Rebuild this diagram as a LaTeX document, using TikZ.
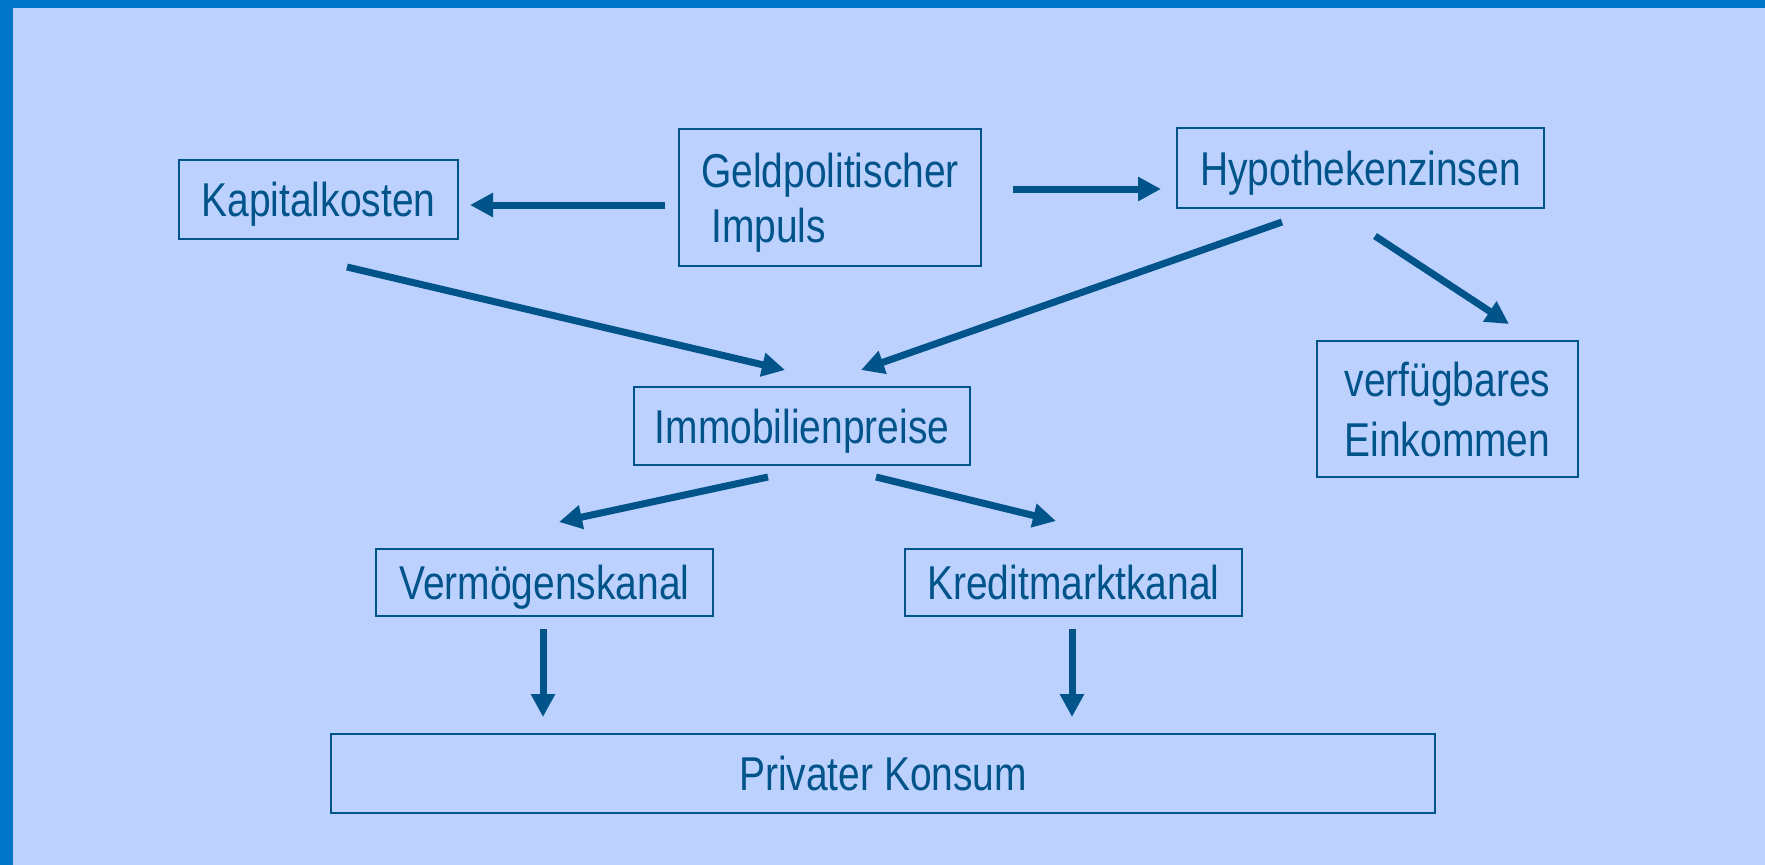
\documentclass[tikz,border=0pt]{standalone}
\usepackage{fontspec}
\setmainfont[FakeStretch=0.82]{Liberation Sans}
\usetikzlibrary{arrows.meta,calc}
\definecolor{bgc}{RGB}{189,209,255}
\definecolor{barc}{RGB}{0,119,200}
\definecolor{inkc}{RGB}{0,84,138}
\begin{document}
\begin{tikzpicture}[x=1pt,y=-1pt,
  box/.style={draw=inkc,line width=2pt,inner sep=0pt,text=inkc,
    text height=34pt,text depth=0pt,
    font=\fontsize{47.5}{55}\selectfont},
  arr/.style={draw=inkc,line width=7pt,-{Triangle[length=23pt,width=23pt]}}]
\useasboundingbox (0,0) rectangle (1765,865);
\fill[bgc] (0,0) rectangle (1765,865);
\fill[barc] (0,0) rectangle (1765,8);
\fill[barc] (0,0) rectangle (13,865);
\node[box,minimum width=302pt,minimum height=137pt,align=left,text height=89pt] (geld) at (830,197.5) {Geldpolitischer\\\hspace{10pt}Impuls};
\node[box,minimum width=279pt,minimum height=79pt] (kap) at (318.5,199.5) {Kapitalkosten};
\node[box,minimum width=367pt,minimum height=80pt] (hyp) at (1360.5,168) {Hypothekenzinsen};
\node[box,minimum width=336pt,minimum height=78pt] (immo) at (802,426) {Immobilienpreise};
\node[box,minimum width=261pt,minimum height=136pt,align=left,text height=94pt,
  font=\fontsize{47.5}{60}\selectfont] (verf) at (1447.5,409) {verfügbares\hspace{10pt}\\Einkommen};
\node[box,minimum width=337pt,minimum height=67pt] (verm) at (544.5,582.5) {Vermögenskanal};
\node[box,minimum width=337pt,minimum height=67pt] (kred) at (1073.5,582.5) {Kreditmarktkanal};
\node[box,minimum width=1104pt,minimum height=79pt] (priv) at (883,773.5) {Privater Konsum};
\draw[arr] ($(geld.west)+(-13,7.5)$) -- ($(kap.east)+(11,5.5)$);
\draw[arr] ($(geld.east)+(31,-8.5)$) -- ($(hyp.west)+(-15,21)$);
\draw[arr] ($(kap.south)+(28.5,27)$) -- ($(immo.north)+(-17,-16)$);
\draw[arr] ($(hyp.south)+(-78.5,13)$) -- ($(immo.north)+(59,-16)$);
\draw[arr] ($(hyp.south)+(14.5,27)$) -- ($(verf.north)+(61.5,-16)$);
\draw[arr] ($(immo.south)+(-34,11)$) -- ($(verm.north)+(14.5,-26)$);
\draw[arr] ($(immo.south)+(74,11)$) -- ($(kred.north)+(-17.5,-27)$);
\draw[arr] ($(verm.south)+(-1.5,12)$) -- ($(verm.south |- priv.north)+(-1.5,-16)$);
\draw[arr] ($(kred.south)+(-1.5,12)$) -- ($(kred.south |- priv.north)+(-1.5,-16)$);
\end{tikzpicture}
\end{document}
